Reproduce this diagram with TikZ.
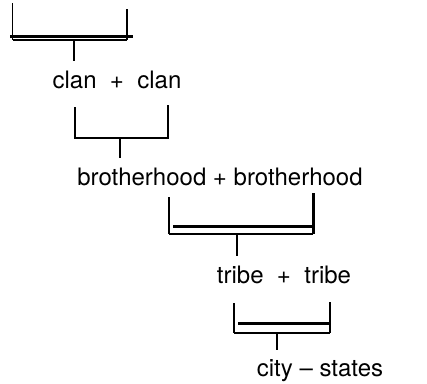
\documentclass[tikz,border=0pt]{standalone}
\usepackage{fontspec}
\setmainfont{TeX Gyre Heros}
\usepackage{tikz}
\usetikzlibrary{calc}
\tikzstyle{tsLabel} = [
    text=black,
    font=\fontsize{24}{28}\selectfont,
    anchor=base,
    inner xsep=2pt,
    inner ysep=9pt
]
\tikzstyle{tsThin} = [
    draw=black,
    line width=1.3pt]
\tikzstyle{tsSide} = [
    draw=black,
    line width=1.7pt]
\tikzstyle{tsThick} = [
    draw=black,
    line width=3pt]

\begin{document}
\begin{tikzpicture}[x=1pt, y=-1pt]

        \useasboundingbox (0,0) rectangle (427,383);

        \node[tsLabel] (clans) at (117,88) {clan \ + \ clan};
        \node[tsLabel] (brothers) at (220,185) {brotherhood + brotherhood};
        \node[tsLabel] (tribes) at (284,283) {tribe \ + \ tribe};
        \node[tsLabel] (cities) at (320,376) {city -- states};

        % top bracket
        \coordinate (b1) at (74,40);
        \draw[tsSide] (12.5,3) -- (12.5,40);
        \draw[tsSide] (127,9) -- (127,40);
        \draw[tsThin] (12.5,40) -- (127,40);
        \draw[tsThick] (10,36) -- (133,36);
        \draw[tsThin] (b1) -- (b1 |- clans.north);

        \coordinate (b2) at (120,138);
        \draw[tsSide] (75,107) -- (75,138) -- (168,138) -- (168,105);
        \draw[tsThin] (b2) -- (b2 |- brothers.north);

        \coordinate (b3) at (237,234);
        \draw[tsSide] (169,197) -- (169,234);
        \draw[tsThick] (313,193) -- (313,234);
        \draw[tsThin] (169,234) -- (313,234);
        \draw[tsThick] (173,226) -- (313,226);
        \draw[tsThin] (b3) -- (b3 |- tribes.north);

        \coordinate (b4) at (277,333);
        \draw[tsSide] (234,303) -- (234,333);
        \draw[tsSide] (330,302) -- (330,333);
        \draw[tsThin] (234,333) -- (330,333);
        \draw[tsThick] (238,323) -- (330,323);
        \draw[tsThin] (b4) -- (b4 |- cities.north);

\end{tikzpicture}
\end{document}
